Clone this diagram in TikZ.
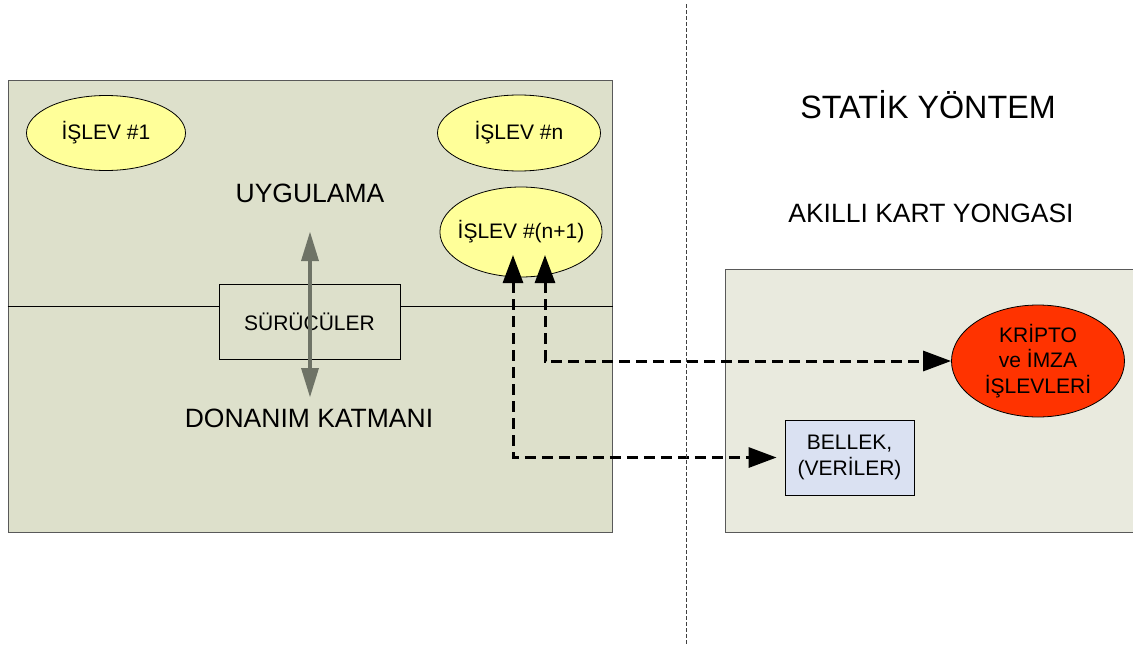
\documentclass[tikz,border=0pt]{standalone}
\usepackage{fontspec}
\setmainfont{Liberation Sans}
\usetikzlibrary{positioning,calc,shapes,arrows.meta}
\definecolor{solzemin}{RGB}{221,224,203}
\definecolor{sagzemin}{RGB}{233,234,222}
\definecolor{islevsari}{RGB}{255,255,153}
\definecolor{kriptokirmizi}{RGB}{255,51,0}
\definecolor{bellekmavi}{RGB}{218,225,242}
\definecolor{okgri}{RGB}{110,115,102}
\tikzset{
  kucukyazi/.style={font=\fontsize{21}{25.5}\selectfont},
  islev/.style={ellipse,draw,line width=0.8pt,fill=islevsari,inner sep=0pt,kucukyazi},
  katman/.style={draw=black!65,line width=1pt,inner sep=0pt},
  kesikok/.style={line width=3pt,dash pattern=on 11pt off 6pt,{Triangle[length=28pt,width=20pt]}-{Triangle[length=28pt,width=20pt]}},
  grioku/.style={line width=4pt,okgri,{Triangle[length=29pt,width=18pt,line width=0pt]}-{Triangle[length=29pt,width=18pt,line width=0pt]}}
}

\begin{document}
\begin{tikzpicture}[x=1pt,y=-1pt]
\clip (0,0) rectangle (1133,645);
\node[katman,fill=solzemin,minimum width=604pt,minimum height=452pt] (sol) at (310,306) {};
\node[katman,fill=sagzemin,minimum width=430pt,minimum height=263pt] (sag) at (940,400.5) {};
\draw[line width=1pt] (sol.west |- 0,306) -- (sol.east |- 0,306);
\node[draw,line width=0.8pt,fill=solzemin,minimum width=181pt,minimum height=75pt,kucukyazi] (surucu) at (309.5,321.5) {SÜRÜCÜLER};

\node[islev,minimum width=159pt,minimum height=75pt] (isl1) at (106,133) {İŞLEV \#1};
\node[islev,minimum width=163pt,minimum height=76pt] (isln) at (519,133) {İŞLEV \#n};
\node[islev,inner xsep=-6pt,minimum width=158pt,minimum height=90pt] (islm) at (521,232) {İŞLEV \#(n+1)};

\node[font=\fontsize{26.5}{30}\selectfont] (uyg) at (310,193) {UYGULAMA};
\node[font=\fontsize{26.5}{30}\selectfont] (don) at (309,418) {DONANIM KATMANI};
\node[font=\fontsize{32.3}{36}\selectfont] (statik) at (928,105) {STATİK YÖNTEM};
\node[font=\fontsize{26.5}{30}\selectfont] (kart) at (931,213) {AKILLI KART YONGASI};

\node[ellipse,draw,line width=0.8pt,fill=kriptokirmizi,inner sep=0pt,minimum width=173pt,minimum height=112pt,align=center,kucukyazi] (kripto) at (1038,361) {KRİPTO\\ve İMZA\\İŞLEVLERİ};
\node[draw,line width=0.8pt,fill=bellekmavi,minimum width=129pt,minimum height=75pt,align=center,kucukyazi] (bellek) at (849.5,457.5) {BELLEK,\\(VERİLER)};

\coordinate (u1) at (513,255);
\coordinate (u2) at (545,255);
\coordinate (g1) at (310,232);
\coordinate (g2) at (310,397);
\coordinate (ayrac1) at (686,4);
\coordinate (ayrac2) at (686,645);

\draw[grioku] (g2) -- (g1);
\draw[kesikok,shorten >=8pt] (u1) |- (bellek.west);
\draw[kesikok] (u2) |- (kripto.west);
\draw[black!75,line width=1pt,dash pattern=on 4pt off 2pt] (ayrac1) -- (ayrac2);
\end{tikzpicture}
\end{document}
